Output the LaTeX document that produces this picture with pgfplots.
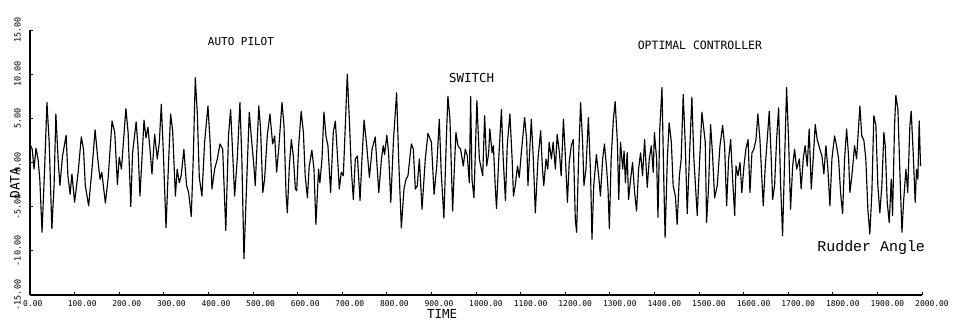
\documentclass[border=0pt]{standalone}
\usepackage{fontspec}
\usepackage{pgfplots}
\pgfplotsset{compat=1.18}
\newfontfamily\plotfont{DejaVu Sans Mono}
\newfontfamily\typew{Liberation Mono}
\begin{document}
\begin{tikzpicture}
\useasboundingbox (-30bp,-26bp) rectangle (929bp,295bp);
\begin{axis}[
  at={(0,0)}, anchor=south west,
  scale only axis, width=892bp, height=265bp,
  xmin=0, xmax=2000, ymin=-15, ymax=15,
  axis lines=left, axis line style={-, line width=1.1bp},
  clip=false,
  xtick={0,100,...,2000}, ytick={-15,-10,...,15},
  xticklabels={0.00,100.00,200.00,300.00,400.00,500.00,600.00,700.00,800.00,900.00,1000.00,1100.00,1200.00,1300.00,1400.00,1500.00,1600.00,1700.00,1800.00,1900.00,2000.00},
  yticklabels={-15.00,-10.00,-5.00,0.00,5.00,10.00,15.00},
  tick style={black, line width=0.9bp}, major tick length=3.5bp, tick align=inside,
  xticklabel style={anchor=north west, xshift=-7bp, inner sep=0pt, font=\plotfont\fontsize{8}{9}\selectfont},
  yticklabel style={rotate=90, anchor=south, inner sep=0pt, font=\plotfont\fontsize{8.5}{9}\selectfont},
  xticklabel shift=5bp, yticklabel shift=9bp,
]
\addplot[black, line width=1.15bp, line join=round] coordinates {
(0,1.5)(1.5,1.9)(5,1.5)(9,-0.75)(13.4,1.6)(18,0.4)(22,-1.9)(27,-7.9)(33,-0.4)(38,6.8)(43,2.3)(49,-7.5)(54,-2.6)(58,5.5)(63,0.4)(67,-2.6)(73,0.75)(81,3.1)(85,-1.5)(90,-3.6)(94,-1.3)(100,-4.5)(108,-1.1)(115,2.9)(120,1.5)(124,-2.6)(131.5,-4.9)(139,-0.75)(146,3.7)(152,0.4)(157,-1.9)(161,-1.1)(169,-4.6)(175,-1.9)(184,4.7)(190,3.4)(196,-2.5)(200,0.6)(205,-0.75)(215,6.1)(220,3.4)(226,-5.0)(230,1.1)(238,4.6)(242,1.9)(246.5,-3.8)
(251,0.4)(255.6,4.8)(260,2.8)(264.5,4.0)(269,1.5)(273.5,-1.3)(279.5,3.2)(285.4,0.4)(290,2.3)(294.4,6.6)(299,1.1)(305,-7.4)(311,0.4)(315.3,5.5)(319.8,3.6)(326,-3.8)(330,-0.75)(334.7,-2.3)(339,-1.5)(345,1.5)(351,-2.6)(355.7,-3.4)(361.6,-6.1)(366,0.4)(370.6,9.6)(375,5.7)(379.6,-1.7)(385.5,-3.8)(391.5,2.3)(399,6.4)(403.5,2.6)(408,-3.0)(414,-0.75)(420,0.4)(426,2.1)(432,1.5)(439,-7.7)(445,3.0)(449.8,6.0)(454,1.5)(458.8,-3.8)(464.7,0.4)(470.7,6.8)(475,0.4)(479.7,-10.9)(485.6,-2.6)(491.6,5.7)(496,3.0)
(502,-0.4)(505,-2.6)(513,6.4)(517,3.8)(522,-3.4)(526,-1.9)(532,3.0)(538,5.5)(544,2.1)(548.6,3.0)(553,-1.1)(557.6,1.5)(565,6.8)(569.5,4.2)(574,-3.4)(577,-5.7)(581.5,-0.4)(586,2.6)(590.4,0.75)(595,-3.0)(598,-3.2)(602.4,1.9)(608,5.8)(613,3.4)(617,-1.5)(622,-4.0)(626,-0.4)(632,1.4)(636.7,-0.75)(641,-7.0)(647,-0.75)(650,-2.3)(654.7,0.4)(659,5.7)(663.6,3.0)(668,1.9)(674,-3.4)(680,3.4)(684.6,4.7)(689,1.1)(693.5,-3.0)(698,-1.1)(702.5,-1.5)(707,4.2)(711.4,10.0)(716,4.9)(720.4,-0.75)(725,-4.2)(729.4,0.4)(734,0.75)(740,-4.3)(744.3,0.4)(749,4.8)
(755,1.9)(761,-1.7)(767,1.5)(774,2.9)(782,-3.4)(788,0.4)(792,1.9)(795,0.9)(800,3.1)(804,1.1)(809,-4.5)(815,2.6)(822,7.9)(826.6,0.4)(832.6,-7.4)(838.5,-3.0)(843,-1.9)(847.5,-1.5)(855,2.1)(859.5,1.5)(864,-3.0)(868.4,-2.6)(873,0.4)(879,-5.3)(886.3,0.4)(892.3,3.3)(900,2.3)(906,-3.6)(912,-0.4)(917.7,4.9)(922,-1.1)(928,-6.3)(934,3.4)(937,7.5)(941.6,4.9)(947.6,-5.5)(952,0)(955,3.4)(959.5,1.9)(965.5,1.5)(971.5,-0.4)(976,1.5)(980.5,0.75)(985,-2.3)(988,7.5)(991,-1.9)(995.4,-4.0)(1002,7.0)
(1007.5,0.4)(1012,-0.75)(1015,-1.5)(1019.4,5.3)(1024,-0.4)(1028.4,1.1)(1031,3.8)(1036,1.1)(1039,1.9)(1043,-2.6)(1046,-5.2)(1051,0.4)(1057,6.0)(1061,0.4)(1066,-4.3)(1070,1.9)(1076,5.5)(1081,0.4)(1084,-3.8)(1088,-2.6)(1093,-0.4)(1097,-1.7)(1101.6,1.1)(1109,5.1)(1113.5,2.6)(1116.5,-2.6)(1119.5,0.4)(1124,4.9)(1128.5,0.4)(1133,-5.7)(1139,0.4)(1145,3.6)(1149,-0.75)(1152,-2.6)(1157,0.4)(1161,-0.75)(1164,2.3)(1169,0.4)(1173,2.3)(1178,-0.75)(1182,3.2)(1187,1.1)(1191,-1.5)(1196,4.9)(1200,1.1)(1205,-4.5)(1209,0)(1213.6,1.9)(1218,2.6)(1222.6,-6.4)(1225.6,-7.9)(1230,0.4)(1234.5,6.8)(1239,2.3)(1242,-2.6)(1246.5,-0.75)(1252,5.1)
(1257,-1.5)(1260,-8.7)(1264,-2.6)(1270,0.9)(1275,-1.5)(1279,-3.8)(1284,0.4)(1288,2.1)(1293,-0.75)(1296,-3.0)(1299,-7.5)(1303,0.4)(1308,4.9)(1312,6.9)(1317,2.3)(1320,-4.2)(1324,2.3)(1329,-0.75)(1332,1.3)(1335,-2.3)(1339,1.1)(1342,-4.2)(1346.6,-1.9)(1351,0)(1355.6,-3.4)(1360,-5.5)(1364.5,-0.75)(1369,1.1)(1373.5,-1.5)(1378,2.6)(1384,-2.8)(1388.5,0.4)(1393,1.9)(1397.4,-1.1)(1400,3.4)(1405,0.4)(1408,-6.2)(1412,3.8)(1417,8.5)(1421,-1.9)(1424,-8.5)(1429,0.4)(1433,4.5)(1438,2.3)(1442,-2.6)(1447,-3.8)(1451,-7.0)(1456,-1.5)(1460,0.4)(1464.6,7.7)(1469,2.3)(1473.6,-5.8)(1479.6,1.9)(1484,7.4)(1488.5,0.4)(1493,-3.4)(1496,-6.0)(1500.5,-0.75)(1506.5,5.7)
(1514,2.3)(1517,-6.8)(1521.6,-2.6)(1526,4.3)(1530.5,0.75)(1535,-4.0)(1541,-2.6)(1547,1.9)(1553,4.2)(1557.4,1.9)(1562,-4.9)(1566.4,0.4)(1571,2.6)(1575.4,-1.9)(1580,-6.0)(1583,-0.4)(1587.3,-1.5)(1592,0)(1596,-3.4)(1600.8,-0.4)(1605,1.5)(1610,2.6)(1614.2,-3.4)(1618.7,1.1)(1623,1.5)(1627.7,2.6)(1632,5.5)(1636.6,2.6)(1641,-1.9)(1644,-4.9)(1648.6,-0.4)(1653,2.6)(1657.5,5.8)(1662,0.4)(1665,-4.2)(1669.5,-2.6)(1674,2.6)(1678.5,6.2)(1683,-2.6)(1687.4,-8.3)(1692,0.4)(1696.4,8.5)(1701,2.3)(1705.3,-5.3)(1710,-0.4)(1714.3,1.5)(1719,-0.75)(1725,0.4)(1729,-3.0)(1733.7,0.4)(1738,1.9)(1742.7,-0.4)(1747,3.8)(1751.7,-3.0)(1756,0.4)(1760.6,4.3)(1765,2.6)(1771,1.5)(1775.6,0.75)(1780,-1.3)(1784.5,1.9)(1789,-0.75)(1793.5,-4.9)(1798,0.4)(1804,3.0)(1808.4,1.9)(1813,0.4)(1817.4,-3.4)(1822,-5.8)(1826.4,0.4)(1831,3.8)(1835.3,0.75)(1838.3,-3.4)(1842.8,-1.5)(1848.8,1.9)(1853.3,0.4)(1858,4.2)(1860.7,6.4)(1865,3.0)(1869.7,2.5)(1874,0.4)(1878.6,-5.3)(1883,-8.1)(1887.6,-3.4)(1892,5.3)(1896.6,4.2)(1901,-2.6)(1905.5,-5.7)(1910,-2.6)(1914.5,3.4)(1917.5,1.9)(1922,-4.5)(1926.5,-6.8)(1931,-1.9)(1934,-6.0)(1938.4,4.2)(1941.4,7.6)(1946,6.0)(1950.4,-1.1)(1955,-7.9)(1959,-4.2)(1964,-0.75)(1968,-3.4)(1972.8,4.2)(1975.8,5.8)(1980.2,1.1)(1984.7,-4.5)(1987.7,-0.75)(1990.7,-1.9)(1993.7,4.7)(1996.7,-0.4)
};
\node[font=\plotfont\fontsize{11}{12}\selectfont] at (rel axis cs:0.2365,0.955) {AUTO PILOT};
\node[font=\plotfont\fontsize{11.5}{13}\selectfont] at (rel axis cs:0.751,0.943) {OPTIMAL CONTROLLER};
\node[font=\plotfont\fontsize{12.5}{14}\selectfont] at (rel axis cs:0.495,0.819) {SWITCH};
\node[font=\typew\fontsize{15}{17}\selectfont] at (rel axis cs:0.943,0.177) {Rudder Angle};
\node[font=\plotfont\fontsize{13}{14}\selectfont, rotate=90] at (rel axis cs:-0.0168,0.4226) {DATA};
\node[font=\plotfont\fontsize{12.5}{14}\selectfont, inner sep=0pt] at (rel axis cs:0.4619,-0.0717) {TIME};
\end{axis}
\end{tikzpicture}
\end{document}
